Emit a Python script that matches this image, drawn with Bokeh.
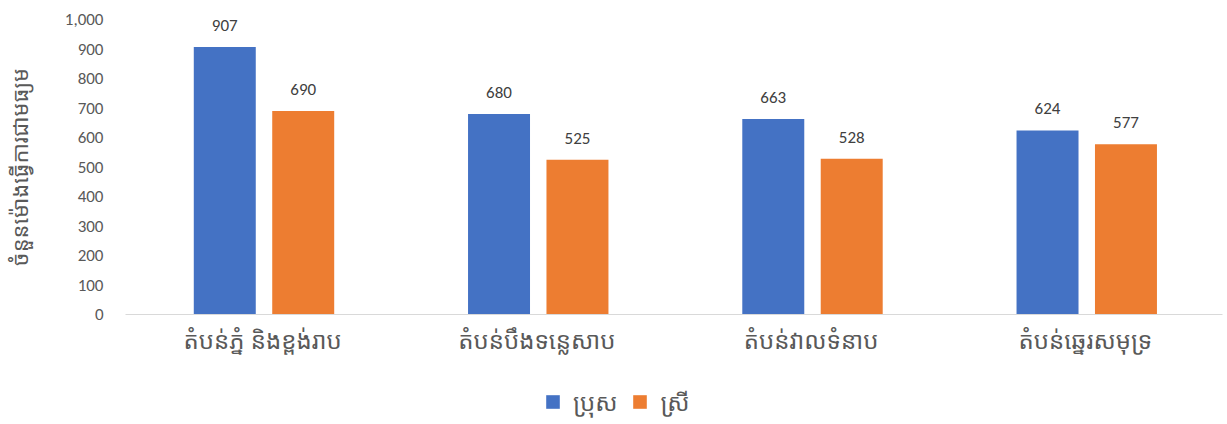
from bokeh.plotting import figure
from bokeh.layouts import column
from bokeh.models import ColumnDataSource, FactorRange, Legend, LegendItem, NumeralTickFormatter, Range1d, SingleIntervalTicker
from bokeh.transform import dodge
from bokeh.embed import file_html
from bokeh.resources import INLINE

regions = ["តំបន់ភ្នំ និងខ្ពង់រាប", "តំបន់បឹងទន្លេសាប", "តំបន់វាលទំនាប", "តំបន់ឆ្នេរសមុទ្រ"]
male = [907, 680, 663, 624]
female = [690, 525, 528, 577]
series_names = ["ប្រុស", "ស្រី"]
y_title = "ចំនួនម៉ោងធ្វើការជាមធ្យម"

BLUE = "#4472C4"
ORANGE = "#ED7D31"
KH_FONT = "Noto Sans Khmer, Noto Sans, sans-serif"
NUM_FONT = "Carlito, Liberation Sans, sans-serif"

src = ColumnDataSource(dict(
    x=regions, male=male, female=female,
    male_lbl=[f"{v}" for v in male], female_lbl=[f"{v}" for v in female],
))

p = figure(x_range=FactorRange(*regions, range_padding=0), y_range=Range1d(0, 1000),
           frame_width=1097, frame_height=295, output_backend="svg", toolbar_location=None,
           min_border_left=118, min_border_right=4, min_border_top=19, min_border_bottom=0)
p.outline_line_color = None
p.xgrid.grid_line_color = None
p.ygrid.grid_line_color = None

r1 = p.vbar(x=dodge("x", -0.138, range=p.x_range), top="male", width=0.226, source=src,
            fill_color=BLUE, line_color=None)
r2 = p.vbar(x=dodge("x", 0.148, range=p.x_range), top="female", width=0.226, source=src,
            fill_color=ORANGE, line_color=None)

for off, col, lbl in [(-0.138, "male", "male_lbl"), (0.148, "female", "female_lbl")]:
    p.text(x=dodge("x", off, range=p.x_range), y=col, text=lbl, source=src,
           text_align="center", text_baseline="bottom", y_offset=-16,
           text_font_size="17px", text_color="#404040", text_font={"value": NUM_FONT})

p.yaxis.formatter = NumeralTickFormatter(format="0,0")
p.yaxis.ticker = SingleIntervalTicker(interval=100)
p.yaxis.axis_line_color = None
p.yaxis.major_tick_line_color = None
p.yaxis.minor_tick_line_color = None
p.yaxis.major_label_text_font = NUM_FONT
p.yaxis.major_label_text_font_size = "17px"
p.yaxis.major_label_text_color = "#595959"
p.yaxis.major_label_standoff = 16
p.yaxis.axis_label = y_title
p.yaxis.axis_label_text_font = KH_FONT
p.yaxis.axis_label_text_font_size = "22px"
p.yaxis.axis_label_text_font_style = "normal"
p.yaxis.axis_label_text_color = "#595959"
p.yaxis.axis_label_standoff = 28

p.xaxis.axis_line_color = "#D9D9D9"
p.xaxis.major_tick_line_color = None
p.xaxis.minor_tick_line_color = None
p.xaxis.major_label_text_font = KH_FONT
p.xaxis.major_label_text_font_size = "24px"
p.xaxis.major_label_text_color = "#595959"
p.xaxis.major_label_standoff = 2

# legend strip below the chart (legend keys sit outside the visible range)
lf = figure(width=1219, height=60, x_range=Range1d(0, 1), y_range=Range1d(0, 1),
            output_backend="svg", toolbar_location=None, min_border=0)
lf.outline_line_color = None
lf.xaxis.visible = False
lf.yaxis.visible = False
lf.xgrid.grid_line_color = None
lf.ygrid.grid_line_color = None
key_src = ColumnDataSource(dict(x=[-5.0], top=[-5.0]))
l1 = lf.vbar(x="x", top="top", width=0.1, source=key_src, fill_color=BLUE, line_color=None)
l2 = lf.vbar(x="x", top="top", width=0.1, source=key_src, fill_color=ORANGE, line_color=None)

legend = Legend(items=[LegendItem(label=series_names[0], renderers=[l1], index=0),
                       LegendItem(label=series_names[1], renderers=[l2], index=0)],
                orientation="horizontal", location=(419, 0),
                label_text_font=KH_FONT, label_text_font_size="24px",
                label_text_color="#595959", glyph_width=17, glyph_height=17,
                spacing=14, label_standoff=12, border_line_color=None,
                background_fill_alpha=0, margin=0, padding=2)
lf.add_layout(legend, "center")

layout = column(p, lf, spacing=0)
open("out.html", "w").write(file_html(layout, INLINE))
